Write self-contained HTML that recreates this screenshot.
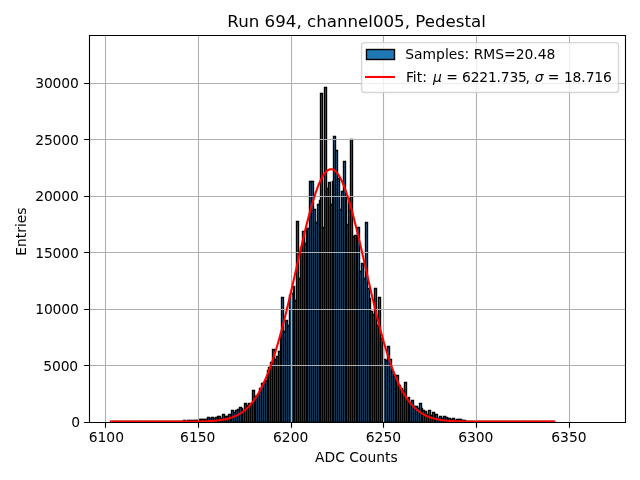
<!DOCTYPE html>
<html><head><meta charset="utf-8"><title>Run 694, channel005, Pedestal</title>
<style>html,body{margin:0;padding:0;background:#fff;overflow:hidden}svg{display:block}</style></head>
<body>
<svg width="640" height="480" viewBox="0 0 640 480">
<rect width="640" height="480" fill="#fff"/>
<defs><clipPath id="ax"><rect x="89" y="36" width="536" height="387"/></clipPath></defs>
<g clip-path="url(#ax)" fill="#1f77b4" stroke="#000" stroke-width="1.389" stroke-linejoin="miter">
<path d="M111.5 422.5H113.5V421.5H111.5z"/>
<path d="M113.5 422.5H115.5V421.5H113.5z"/>
<path d="M115.5 422.5H116.5V421.5H115.5z"/>
<path d="M116.5 422.5H118.5V421.5H116.5z"/>
<path d="M118.5 422.5H120.5V421.5H118.5z"/>
<path d="M120.5 422.5H122.5V421.5H120.5z"/>
<path d="M122.5 422.5H124.5V421.5H122.5z"/>
<path d="M124.5 422.5H126.5V421.5H124.5z"/>
<path d="M126.5 422.5H127.5V421.5H126.5z"/>
<path d="M127.5 422.5H129.5V421.5H127.5z"/>
<path d="M129.5 422.5H131.5V421.5H129.5z"/>
<path d="M131.5 422.5H133.5V421.5H131.5z"/>
<path d="M133.5 422.5H135.5V421.5H133.5z"/>
<path d="M135.5 422.5H137.5V421.5H135.5z"/>
<path d="M137.5 422.5H139.5V421.5H137.5z"/>
<path d="M139.5 422.5H140.5V421.5H139.5z"/>
<path d="M140.5 422.5H142.5V421.5H140.5z"/>
<path d="M142.5 422.5H144.5V421.5H142.5z"/>
<path d="M144.5 422.5H146.5V421.5H144.5z"/>
<path d="M146.5 422.5H148.5V421.5H146.5z"/>
<path d="M148.5 422.5H150.5V421.5H148.5z"/>
<path d="M150.5 422.5H152.5V421.5H150.5z"/>
<path d="M152.5 422.5H153.5V421.5H152.5z"/>
<path d="M153.5 422.5H155.5V421.5H153.5z"/>
<path d="M155.5 422.5H157.5V421.5H155.5z"/>
<path d="M157.5 422.5H159.5V421.5H157.5z"/>
<path d="M159.5 422.5H161.5V421.5H159.5z"/>
<path d="M161.5 422.5H163.5V421.5H161.5z"/>
<path d="M163.5 422.5H165.5V421.5H163.5z"/>
<path d="M165.5 422.5H166.5V421.5H165.5z"/>
<path d="M166.5 422.5H168.5V421.5H166.5z"/>
<path d="M168.5 422.5H170.5V421.5H168.5z"/>
<path d="M170.5 422.5H172.5V421.5H170.5z"/>
<path d="M172.5 422.5H174.5V421.5H172.5z"/>
<path d="M174.5 422.5H176.5V421.5H174.5z"/>
<path d="M176.5 422.5H178.5V421.5H176.5z"/>
<path d="M178.5 422.5H179.5V421.5H178.5z"/>
<path d="M179.5 422.5H181.5V421.5H179.5z"/>
<path d="M181.5 422.5H183.5V421.5H181.5z"/>
<path d="M183.5 422.5H185.5V420.5H183.5z"/>
<path d="M185.5 422.5H187.5V421.5H185.5z"/>
<path d="M187.5 422.5H189.5V420.5H187.5z"/>
<path d="M189.5 422.5H191.5V420.5H189.5z"/>
<path d="M191.5 422.5H192.5V421.5H191.5z"/>
<path d="M192.5 422.5H194.5V420.5H192.5z"/>
<path d="M194.5 422.5H196.5V420.5H194.5z"/>
<path d="M196.5 422.5H198.5V420.5H196.5z"/>
<path d="M198.5 422.5H200.5V419.5H198.5z"/>
<path d="M200.5 422.5H202.5V419.5H200.5z"/>
<path d="M202.5 422.5H204.5V419.5H202.5z"/>
<path d="M204.5 422.5H205.5V419.5H204.5z"/>
<path d="M205.5 422.5H207.5V419.5H205.5z"/>
<path d="M207.5 422.5H209.5V417.5H207.5z"/>
<path d="M209.5 422.5H211.5V418.5H209.5z"/>
<path d="M211.5 422.5H213.5V417.5H211.5z"/>
<path d="M213.5 422.5H215.5V418.5H213.5z"/>
<path d="M215.5 422.5H217.5V417.5H215.5z"/>
<path d="M217.5 422.5H218.5V416.5H217.5z"/>
<path d="M218.5 422.5H220.5V416.5H218.5z"/>
<path d="M220.5 422.5H222.5V418.5H220.5z"/>
<path d="M222.5 422.5H224.5V414.5H222.5z"/>
<path d="M224.5 422.5H226.5V416.5H224.5z"/>
<path d="M226.5 422.5H228.5V416.5H226.5z"/>
<path d="M228.5 422.5H230.5V414.5H228.5z"/>
<path d="M230.5 422.5H231.5V416.5H230.5z"/>
<path d="M231.5 422.5H233.5V410.5H231.5z"/>
<path d="M233.5 422.5H235.5V412.5H233.5z"/>
<path d="M235.5 422.5H237.5V410.5H235.5z"/>
<path d="M237.5 422.5H239.5V409.5H237.5z"/>
<path d="M239.5 422.5H241.5V407.5H239.5z"/>
<path d="M241.5 422.5H242.5V408.5H241.5z"/>
<path d="M242.5 422.5H244.5V410.5H242.5z"/>
<path d="M244.5 422.5H246.5V403.5H244.5z"/>
<path d="M246.5 422.5H248.5V405.5H246.5z"/>
<path d="M248.5 422.5H250.5V403.5H248.5z"/>
<path d="M250.5 422.5H252.5V404.5H250.5z"/>
<path d="M252.5 422.5H254.5V390.5H252.5z"/>
<path d="M254.5 422.5H255.5V396.5H254.5z"/>
<path d="M255.5 422.5H257.5V396.5H255.5z"/>
<path d="M257.5 422.5H259.5V394.5H257.5z"/>
<path d="M259.5 422.5H261.5V388.5H259.5z"/>
<path d="M261.5 422.5H263.5V383.5H261.5z"/>
<path d="M263.5 422.5H265.5V382.5H263.5z"/>
<path d="M265.5 422.5H267.5V380.5H265.5z"/>
<path d="M267.5 422.5H268.5V370.5H267.5z"/>
<path d="M268.5 422.5H270.5V367.5H268.5z"/>
<path d="M270.5 422.5H272.5V362.5H270.5z"/>
<path d="M272.5 422.5H274.5V349.5H272.5z"/>
<path d="M274.5 422.5H276.5V359.5H274.5z"/>
<path d="M276.5 422.5H278.5V356.5H276.5z"/>
<path d="M278.5 422.5H280.5V351.5H278.5z"/>
<path d="M280.5 422.5H281.5V336.5H280.5z"/>
<path d="M281.5 422.5H283.5V297.5H281.5z"/>
<path d="M283.5 422.5H285.5V331.5H283.5z"/>
<path d="M285.5 422.5H287.5V320.5H285.5z"/>
<path d="M287.5 422.5H289.5V325.5H287.5z"/>
<path d="M289.5 422.5H291.5V295.5H289.5z"/>
<path d="M291.5 422.5H293.5V293.5H291.5z"/>
<path d="M293.5 422.5H294.5V286.5H293.5z"/>
<path d="M294.5 422.5H296.5V300.5H294.5z"/>
<path d="M296.5 422.5H298.5V221.5H296.5z"/>
<path d="M298.5 422.5H300.5V278.5H298.5z"/>
<path d="M300.5 422.5H302.5V247.5H300.5z"/>
<path d="M302.5 422.5H304.5V231.5H302.5z"/>
<path d="M304.5 422.5H306.5V243.5H304.5z"/>
<path d="M306.5 422.5H307.5V228.5H306.5z"/>
<path d="M307.5 422.5H309.5V228.5H307.5z"/>
<path d="M309.5 422.5H311.5V181.5H309.5z"/>
<path d="M311.5 422.5H313.5V181.5H311.5z"/>
<path d="M313.5 422.5H315.5V209.5H313.5z"/>
<path d="M315.5 422.5H317.5V222.5H315.5z"/>
<path d="M317.5 422.5H319.5V204.5H317.5z"/>
<path d="M319.5 422.5H320.5V200.5H319.5z"/>
<path d="M320.5 422.5H322.5V93.5H320.5z"/>
<path d="M322.5 422.5H324.5V227.5H322.5z"/>
<path d="M324.5 422.5H326.5V87.5H324.5z"/>
<path d="M326.5 422.5H328.5V188.5H326.5z"/>
<path d="M328.5 422.5H330.5V182.5H328.5z"/>
<path d="M330.5 422.5H332.5V204.5H330.5z"/>
<path d="M332.5 422.5H333.5V181.5H332.5z"/>
<path d="M333.5 422.5H335.5V136.5H333.5z"/>
<path d="M335.5 422.5H337.5V150.5H335.5z"/>
<path d="M337.5 422.5H339.5V178.5H337.5z"/>
<path d="M339.5 422.5H341.5V209.5H339.5z"/>
<path d="M341.5 422.5H343.5V191.5H341.5z"/>
<path d="M343.5 422.5H345.5V161.5H343.5z"/>
<path d="M345.5 422.5H346.5V196.5H345.5z"/>
<path d="M346.5 422.5H348.5V224.5H346.5z"/>
<path d="M348.5 422.5H350.5V198.5H348.5z"/>
<path d="M350.5 422.5H352.5V139.5H350.5z"/>
<path d="M352.5 422.5H354.5V236.5H352.5z"/>
<path d="M354.5 422.5H356.5V235.5H354.5z"/>
<path d="M356.5 422.5H357.5V236.5H356.5z"/>
<path d="M357.5 422.5H359.5V227.5H357.5z"/>
<path d="M359.5 422.5H361.5V271.5H359.5z"/>
<path d="M361.5 422.5H363.5V263.5H361.5z"/>
<path d="M363.5 422.5H365.5V278.5H363.5z"/>
<path d="M365.5 422.5H367.5V222.5H365.5z"/>
<path d="M367.5 422.5H369.5V288.5H367.5z"/>
<path d="M369.5 422.5H370.5V298.5H369.5z"/>
<path d="M370.5 422.5H372.5V311.5H370.5z"/>
<path d="M372.5 422.5H374.5V314.5H372.5z"/>
<path d="M374.5 422.5H376.5V288.5H374.5z"/>
<path d="M376.5 422.5H378.5V325.5H376.5z"/>
<path d="M378.5 422.5H380.5V297.5H378.5z"/>
<path d="M380.5 422.5H382.5V338.5H380.5z"/>
<path d="M382.5 422.5H383.5V343.5H382.5z"/>
<path d="M383.5 422.5H385.5V359.5H383.5z"/>
<path d="M385.5 422.5H387.5V360.5H385.5z"/>
<path d="M387.5 422.5H389.5V346.5H387.5z"/>
<path d="M389.5 422.5H391.5V359.5H389.5z"/>
<path d="M391.5 422.5H393.5V371.5H391.5z"/>
<path d="M393.5 422.5H395.5V376.5H393.5z"/>
<path d="M395.5 422.5H396.5V375.5H395.5z"/>
<path d="M396.5 422.5H398.5V375.5H396.5z"/>
<path d="M398.5 422.5H400.5V385.5H398.5z"/>
<path d="M400.5 422.5H402.5V388.5H400.5z"/>
<path d="M402.5 422.5H404.5V390.5H402.5z"/>
<path d="M404.5 422.5H406.5V382.5H404.5z"/>
<path d="M406.5 422.5H408.5V401.5H406.5z"/>
<path d="M408.5 422.5H409.5V397.5H408.5z"/>
<path d="M409.5 422.5H411.5V403.5H409.5z"/>
<path d="M411.5 422.5H413.5V400.5H411.5z"/>
<path d="M413.5 422.5H415.5V406.5H413.5z"/>
<path d="M415.5 422.5H417.5V406.5H415.5z"/>
<path d="M417.5 422.5H419.5V408.5H417.5z"/>
<path d="M419.5 422.5H421.5V403.5H419.5z"/>
<path d="M421.5 422.5H422.5V408.5H421.5z"/>
<path d="M422.5 422.5H424.5V410.5H422.5z"/>
<path d="M424.5 422.5H426.5V411.5H424.5z"/>
<path d="M426.5 422.5H428.5V414.5H426.5z"/>
<path d="M428.5 422.5H430.5V410.5H428.5z"/>
<path d="M430.5 422.5H432.5V415.5H430.5z"/>
<path d="M432.5 422.5H434.5V412.5H432.5z"/>
<path d="M434.5 422.5H435.5V414.5H434.5z"/>
<path d="M435.5 422.5H437.5V414.5H435.5z"/>
<path d="M437.5 422.5H439.5V418.5H437.5z"/>
<path d="M439.5 422.5H441.5V416.5H439.5z"/>
<path d="M441.5 422.5H443.5V418.5H441.5z"/>
<path d="M443.5 422.5H445.5V416.5H443.5z"/>
<path d="M445.5 422.5H447.5V417.5H445.5z"/>
<path d="M447.5 422.5H448.5V418.5H447.5z"/>
<path d="M448.5 422.5H450.5V418.5H448.5z"/>
<path d="M450.5 422.5H452.5V419.5H450.5z"/>
<path d="M452.5 422.5H454.5V418.5H452.5z"/>
<path d="M454.5 422.5H456.5V420.5H454.5z"/>
<path d="M456.5 422.5H458.5V419.5H456.5z"/>
<path d="M458.5 422.5H460.5V419.5H458.5z"/>
<path d="M460.5 422.5H461.5V419.5H460.5z"/>
<path d="M461.5 422.5H463.5V420.5H461.5z"/>
<path d="M463.5 422.5H465.5V420.5H463.5z"/>
<path d="M465.5 422.5H467.5V421.5H465.5z"/>
<path d="M467.5 422.5H469.5V421.5H467.5z"/>
<path d="M469.5 422.5H471.5V421.5H469.5z"/>
<path d="M471.5 422.5H472.5V421.5H471.5z"/>
<path d="M472.5 422.5H474.5V421.5H472.5z"/>
<path d="M474.5 422.5H476.5V421.5H474.5z"/>
<path d="M476.5 422.5H478.5V421.5H476.5z"/>
<path d="M478.5 422.5H480.5V421.5H478.5z"/>
<path d="M480.5 422.5H482.5V421.5H480.5z"/>
<path d="M482.5 422.5H484.5V421.5H482.5z"/>
<path d="M484.5 422.5H485.5V421.5H484.5z"/>
<path d="M485.5 422.5H487.5V421.5H485.5z"/>
<path d="M487.5 422.5H489.5V421.5H487.5z"/>
<path d="M489.5 422.5H491.5V421.5H489.5z"/>
<path d="M491.5 422.5H493.5V421.5H491.5z"/>
<path d="M493.5 422.5H495.5V421.5H493.5z"/>
<path d="M495.5 422.5H497.5V421.5H495.5z"/>
<path d="M497.5 422.5H498.5V421.5H497.5z"/>
<path d="M498.5 422.5H500.5V421.5H498.5z"/>
<path d="M500.5 422.5H502.5V421.5H500.5z"/>
<path d="M502.5 422.5H504.5V421.5H502.5z"/>
<path d="M504.5 422.5H506.5V421.5H504.5z"/>
<path d="M506.5 422.5H508.5V421.5H506.5z"/>
<path d="M508.5 422.5H510.5V421.5H508.5z"/>
<path d="M510.5 422.5H511.5V421.5H510.5z"/>
<path d="M511.5 422.5H513.5V421.5H511.5z"/>
<path d="M513.5 422.5H515.5V421.5H513.5z"/>
<path d="M515.5 422.5H517.5V421.5H515.5z"/>
<path d="M517.5 422.5H519.5V421.5H517.5z"/>
<path d="M519.5 422.5H521.5V421.5H519.5z"/>
<path d="M521.5 422.5H523.5V421.5H521.5z"/>
<path d="M523.5 422.5H524.5V421.5H523.5z"/>
<path d="M524.5 422.5H526.5V421.5H524.5z"/>
<path d="M526.5 422.5H528.5V421.5H526.5z"/>
<path d="M528.5 422.5H530.5V421.5H528.5z"/>
<path d="M530.5 422.5H532.5V421.5H530.5z"/>
<path d="M532.5 422.5H534.5V421.5H532.5z"/>
<path d="M534.5 422.5H536.5V421.5H534.5z"/>
<path d="M536.5 422.5H537.5V421.5H536.5z"/>
<path d="M537.5 422.5H539.5V421.5H537.5z"/>
<path d="M539.5 422.5H541.5V421.5H539.5z"/>
<path d="M541.5 422.5H543.5V421.5H541.5z"/>
<path d="M543.5 422.5H545.5V421.5H543.5z"/>
<path d="M545.5 422.5H547.5V421.5H545.5z"/>
<path d="M547.5 422.5H549.5V421.5H547.5z"/>
<path d="M549.5 422.5H550.5V421.5H549.5z"/>
<path d="M550.5 422.5H552.5V421.5H550.5z"/>
<path d="M552.5 422.5H554.5V421.5H552.5z"/>
</g>
<path clip-path="url(#ax)" d="M105.5 423V36M198.5 423V36M291.5 423V36M383.5 423V36M476.5 423V36M569.5 423V36M89 422.5H625M89 365.5H625M89 309.5H625M89 252.5H625M89 196.5H625M89 139.5H625M89 83.5H625" fill="none" stroke="#b0b0b0" stroke-width="1.111" stroke-linecap="square"/>
<polyline clip-path="url(#ax)" points="110.802,421.644 111.913,421.644 113.024,421.644 114.135,421.644 115.246,421.644 116.357,421.644 117.468,421.644 118.579,421.644 119.69,421.644 120.801,421.644 121.912,421.644 123.023,421.644 124.134,421.644 125.245,421.644 126.356,421.644 127.467,421.644 128.578,421.644 129.689,421.644 130.8,421.644 131.911,421.644 133.022,421.644 134.133,421.644 135.244,421.644 136.355,421.644 137.466,421.644 138.577,421.644 139.688,421.644 140.799,421.644 141.91,421.644 143.021,421.644 144.133,421.644 145.244,421.644 146.355,421.644 147.466,421.644 148.577,421.644 149.688,421.644 150.799,421.644 151.91,421.644 153.021,421.644 154.132,421.643 155.243,421.643 156.354,421.643 157.465,421.643 158.576,421.643 159.687,421.643 160.798,421.642 161.909,421.642 163.02,421.642 164.131,421.642 165.242,421.641 166.353,421.641 167.464,421.64 168.575,421.64 169.686,421.639 170.797,421.638 171.908,421.637 173.019,421.636 174.13,421.635 175.241,421.633 176.352,421.632 177.463,421.63 178.574,421.628 179.685,421.625 180.796,421.622 181.907,421.619 183.018,421.616 184.129,421.611 185.24,421.607 186.351,421.601 187.462,421.595 188.573,421.588 189.684,421.581 190.795,421.572 191.906,421.562 193.017,421.551 194.128,421.538 195.239,421.524 196.35,421.508 197.462,421.49 198.573,421.47 199.684,421.447 200.795,421.422 201.906,421.394 203.017,421.363 204.128,421.328 205.239,421.289 206.35,421.245 207.461,421.197 208.572,421.143 209.683,421.083 210.794,421.017 211.905,420.944 213.016,420.863 214.127,420.774 215.238,420.675 216.349,420.567 217.46,420.447 218.571,420.316 219.682,420.172 220.793,420.013 221.904,419.84 223.015,419.65 224.126,419.442 225.237,419.215 226.348,418.968 227.459,418.698 228.57,418.405 229.681,418.086 230.792,417.739 231.903,417.363 233.014,416.956 234.125,416.515 235.236,416.039 236.347,415.524 237.458,414.97 238.569,414.372 239.68,413.729 240.791,413.038 241.902,412.296 243.013,411.501 244.124,410.649 245.235,409.738 246.346,408.764 247.457,407.726 248.568,406.618 249.679,405.44 250.79,404.187 251.902,402.856 253.013,401.444 254.124,399.949 255.235,398.367 256.346,396.695 257.457,394.93 258.568,393.07 259.679,391.111 260.79,389.052 261.901,386.889 263.012,384.621 264.123,382.245 265.234,379.76 266.345,377.163 267.456,374.454 268.567,371.631 269.678,368.693 270.789,365.641 271.9,362.473 273.011,359.189 274.122,355.791 275.233,352.279 276.344,348.655 277.455,344.92 278.566,341.076 279.677,337.127 280.788,333.075 281.899,328.923 283.01,324.676 284.121,320.338 285.232,315.915 286.343,311.412 287.454,306.834 288.565,302.189 289.676,297.483 290.787,292.723 291.898,287.919 293.009,283.077 294.12,278.207 295.231,273.318 296.342,268.419 297.453,263.521 298.564,258.632 299.675,253.765 300.786,248.93 301.897,244.137 303.008,239.398 304.119,234.724 305.23,230.126 306.342,225.616 307.453,221.206 308.564,216.906 309.675,212.728 310.786,208.682 311.897,204.781 313.008,201.034 314.119,197.453 315.23,194.046 316.341,190.825 317.452,187.797 318.563,184.972 319.674,182.358 320.785,179.963 321.896,177.794 323.007,175.858 324.118,174.159 325.229,172.704 326.34,171.497 327.451,170.541 328.562,169.84 329.673,169.395 330.784,169.208 331.895,169.28 333.006,169.61 334.117,170.197 335.228,171.04 336.339,172.135 337.45,173.48 338.561,175.071 339.672,176.902 340.783,178.968 341.894,181.263 343.005,183.78 344.116,186.512 345.227,189.451 346.338,192.587 347.449,195.912 348.56,199.417 349.671,203.091 350.782,206.925 351.893,210.907 353.004,215.028 354.115,219.275 355.226,223.638 356.337,228.105 357.448,232.664 358.559,237.306 359.671,242.017 360.782,246.788 361.893,251.605 363.004,256.46 364.115,261.34 365.226,266.235 366.337,271.135 367.448,276.03 368.559,280.909 369.67,285.765 370.781,290.587 371.892,295.367 373.003,300.098 374.114,304.771 375.225,309.38 376.336,313.917 377.447,318.377 378.558,322.753 379.669,327.041 380.78,331.236 381.891,335.333 383.002,339.329 384.113,343.22 385.224,347.004 386.335,350.678 387.446,354.24 388.557,357.689 389.668,361.023 390.779,364.243 391.89,367.347 393.001,370.336 394.112,373.21 395.223,375.97 396.334,378.616 397.445,381.151 398.556,383.576 399.667,385.892 400.778,388.101 401.889,390.206 403,392.209 404.111,394.113 405.222,395.92 406.333,397.633 407.444,399.255 408.555,400.788 409.666,402.237 410.777,403.603 411.888,404.891 412.999,406.102 414.111,407.241 415.222,408.31 416.333,409.312 417.444,410.25 418.555,411.128 419.666,411.948 420.777,412.714 421.888,413.427 422.999,414.091 424.11,414.709 425.221,415.282 426.332,415.814 427.443,416.307 428.554,416.764 429.665,417.186 430.776,417.575 431.887,417.935 432.998,418.266 434.109,418.57 435.22,418.851 436.331,419.108 437.442,419.343 438.553,419.56 439.664,419.757 440.775,419.938 441.886,420.103 442.997,420.253 444.108,420.39 445.219,420.515 446.33,420.628 447.441,420.731 448.552,420.825 449.663,420.909 450.774,420.986 451.885,421.055 452.996,421.117 454.107,421.173 455.218,421.224 456.329,421.27 457.44,421.311 458.551,421.348 459.662,421.381 460.773,421.41 461.884,421.437 462.995,421.46 464.106,421.481 465.217,421.5 466.328,421.517 467.439,421.532 468.551,421.545 469.662,421.557 470.773,421.568 471.884,421.577 472.995,421.585 474.106,421.592 475.217,421.599 476.328,421.604 477.439,421.609 478.55,421.614 479.661,421.618 480.772,421.621 481.883,421.624 482.994,421.627 484.105,421.629 485.216,421.631 486.327,421.633 487.438,421.634 488.549,421.635 489.66,421.637 490.771,421.638 491.882,421.639 492.993,421.639 494.104,421.64 495.215,421.64 496.326,421.641 497.437,421.641 498.548,421.642 499.659,421.642 500.77,421.642 501.881,421.643 502.992,421.643 504.103,421.643 505.214,421.643 506.325,421.643 507.436,421.643 508.547,421.643 509.658,421.644 510.769,421.644 511.88,421.644 512.991,421.644 514.102,421.644 515.213,421.644 516.324,421.644 517.435,421.644 518.546,421.644 519.657,421.644 520.768,421.644 521.88,421.644 522.991,421.644 524.102,421.644 525.213,421.644 526.324,421.644 527.435,421.644 528.546,421.644 529.657,421.644 530.768,421.644 531.879,421.644 532.99,421.644 534.101,421.644 535.212,421.644 536.323,421.644 537.434,421.644 538.545,421.644 539.656,421.644 540.767,421.644 541.878,421.644 542.989,421.644 544.1,421.644 545.211,421.644 546.322,421.644 547.433,421.644 548.544,421.644 549.655,421.644 550.766,421.644 551.877,421.644 552.988,421.644 554.099,421.644" fill="none" stroke="#ff0000" stroke-width="2.083" stroke-linecap="square" stroke-linejoin="round"/>
<path d="M105.5 423v4.861M198.5 423v4.861M291.5 423v4.861M383.5 423v4.861M476.5 423v4.861M569.5 423v4.861M89 422.5h-4.861M89 365.5h-4.861M89 309.5h-4.861M89 252.5h-4.861M89 196.5h-4.861M89 139.5h-4.861M89 83.5h-4.861" fill="none" stroke="#000" stroke-width="1.111"/>
<path d="M89.5 422.5V35.5M625.5 422.5V35.5M89.5 422.5H625.5M89.5 35.5H625.5" fill="none" stroke="#000" stroke-width="1.111" stroke-linecap="square"/>
<g font-family="'DejaVu Sans', 'Liberation Sans', sans-serif" font-size="13.889" fill="#000">
<text x="106.337" y="441.9" text-anchor="middle">6100</text>
<text x="197.778" y="441.9" text-anchor="middle">6150</text>
<text x="290.717" y="441.9" text-anchor="middle">6200</text>
<text x="383.458" y="441.9" text-anchor="middle">6250</text>
<text x="475.798" y="441.9" text-anchor="middle">6300</text>
<text x="568.938" y="441.9" text-anchor="middle">6350</text>
<text x="80" y="427.3" text-anchor="end" letter-spacing="-0.15">0</text>
<text x="78" y="370.8" text-anchor="end" letter-spacing="-0.15">5000</text>
<text x="78.6" y="314.3" text-anchor="end" letter-spacing="-0.15">10000</text>
<text x="78.6" y="257.8" text-anchor="end" letter-spacing="-0.15">15000</text>
<text x="78.6" y="201.3" text-anchor="end" letter-spacing="-0.15">20000</text>
<text x="78.6" y="144.8" text-anchor="end" letter-spacing="-0.15">25000</text>
<text x="78.6" y="88.3" text-anchor="end" letter-spacing="-0.15">30000</text>
<text x="356.4" y="461.8" text-anchor="middle">ADC Counts</text>
<text transform="translate(26.25 231.6) rotate(-90)" text-anchor="middle">Entries</text>
<text x="356.6" y="27.2" text-anchor="middle" font-size="16.667">Run 694, channel005, Pedestal</text>
<rect x="361.6" y="42.6" width="256.9" height="49.9" rx="2.778" fill="#fff" fill-opacity="0.8" stroke="#ccc" stroke-opacity="0.8" stroke-width="1.389"/>
<rect x="366.5" y="49.5" width="28" height="10" fill="#1f77b4" stroke="#000" stroke-width="1.389"/>
<text x="405.3" y="58.6">Samples: RMS=20.48</text>
<path d="M366.04 77H393.9" stroke="#ff0000" stroke-width="2.083" stroke-linecap="square"/>
<text y="82.25"><tspan x="405.9">Fit: </tspan><tspan x="432.9" font-style="oblique">μ</tspan> = <tspan x="462.1" letter-spacing="-0.2">6221.735</tspan><tspan x="525.5">, </tspan><tspan x="534.85" font-style="oblique">σ</tspan><tspan x="543.35"> = </tspan><tspan x="563.9" letter-spacing="-0.11">18.716</tspan></text>
</g>
</svg>
</body></html>
